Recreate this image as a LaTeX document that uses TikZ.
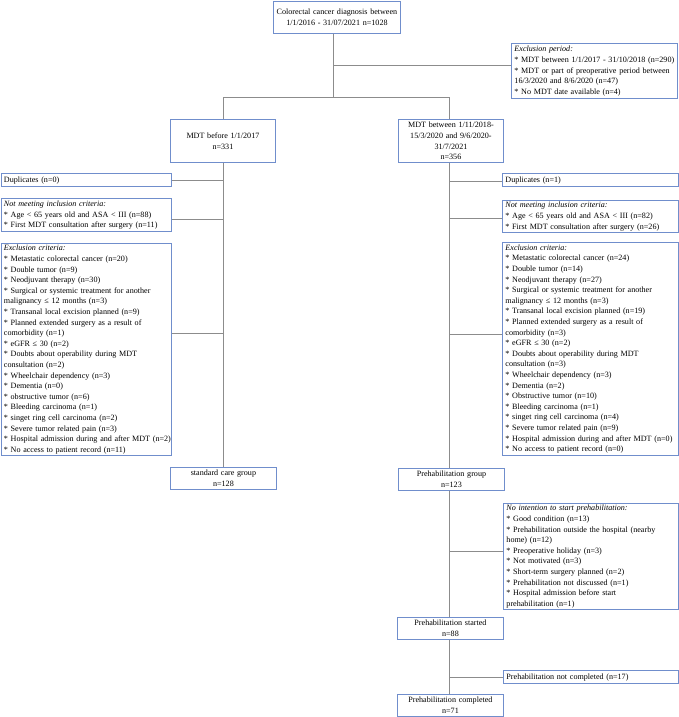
\documentclass[tikz,border=0pt]{standalone}
\usepackage{fontspec}
\setmainfont{Liberation Serif}
\definecolor{boxc}{RGB}{112,142,204}
\definecolor{linec}{RGB}{140,140,140}
\newcommand{\tl}[1]{\begin{tabular}{@{}l@{}}#1\end{tabular}}
\newcommand{\bl}{{*}\ }
\tikzset{
  box/.style={draw=boxc, line width=0.9pt, rectangle, inner xsep=3pt, inner ysep=0pt, anchor=north west, font=\fontsize{8.1}{10.6}\selectfont},
  lbox/.style={box, align=left},
  cbox/.style={box, align=center},
  conn/.style={draw=linec, line width=0.9pt},
}
\begin{document}
\begin{tikzpicture}[x=1pt,y=-1pt]
\useasboundingbox (0,0) rectangle (678,717);
% boxes
\node[cbox, text width=121pt, minimum height=32pt] (top) at (273,1) {Colorectal cancer diagnosis between\\1/1/2016 - 31/07/2021 n=1028};
\node[lbox, text width=160pt, minimum height=55pt] (exclP) at (511,43) {\tl{\textit{Exclusion period:}\\
\bl MDT between 1/1/2017 - 31/10/2018 (n=290)\\
\bl MDT or part of preoperative period between\\
16/3/2020 and 8/6/2020 (n=47)\\
\bl No MDT date available (n=4)}};
\node[cbox, text width=99pt, minimum height=43pt] (mdtL) at (170,119) {MDT before 1/1/2017\\n=331};
\node[cbox, text width=99pt, minimum height=43pt] (mdtR) at (398,119) {MDT between 1/11/2018-\\15/3/2020 and 9/6/2020-\\31/7/2021\\n=356};
\node[lbox, text width=164.5pt, minimum height=13pt] (dupL) at (0.5,173) {\tl{Duplicates (n=0)}};
\node[lbox, text width=164.5pt, minimum height=33pt] (notL) at (0.5,198) {\tl{\textit{Not meeting inclusion criteria:}\\
\bl Age < 65 years old and ASA < III (n=88)\\
\bl First MDT consultation after surgery (n=11)}};
\node[lbox, text width=164.5pt, minimum height=212pt] (exclL) at (0.5,243) {\tl{\textit{Exclusion criteria:}\\
\bl Metastatic colorectal cancer (n=20)\\
\bl Double tumor (n=9)\\
\bl Neodjuvant therapy (n=30)\\
\bl Surgical or systemic treatment for another\\
malignancy ≤ 12 months (n=3)\\
\bl Transanal local excision planned (n=9)\\
\bl Planned extended surgery as a result of\\
comorbidity (n=1)\\
\bl eGFR ≤ 30 (n=2)\\
\bl Doubts about operability during MDT\\
consultation (n=2)\\
\bl Wheelchair dependency (n=3)\\
\bl Dementia (n=0)\\
\bl obstructive tumor (n=6)\\
\bl Bleeding carcinoma (n=1)\\
\bl singet ring cell carcinoma (n=2)\\
\bl Severe tumor related pain (n=3)\\
\bl Hospital admission during and after MDT (n=2)\\
\bl No access to patient record (n=11)}};
\node[cbox, text width=100pt, minimum height=22pt] (std) at (170,467) {standard care group\\n=128};
\node[lbox, text width=169.5pt, minimum height=13pt] (dupR) at (502,173) {\tl{Duplicates (n=1)}};
\node[lbox, text width=169.5pt, minimum height=32pt] (notR) at (502,200) {\tl{\textit{Not meeting inclusion criteria:}\\
\bl Age < 65 years old and ASA < III (n=82)\\
\bl First MDT consultation after surgery (n=26)}};
\node[lbox, text width=169.5pt, minimum height=213pt] (exclR) at (502,242) {\tl{\textit{Exclusion criteria:}\\
\bl Metastatic colorectal cancer (n=24)\\
\bl Double tumor (n=14)\\
\bl Neodjuvant therapy (n=27)\\
\bl Surgical or systemic treatment for another\\
malignancy ≤ 12 months (n=3)\\
\bl Transanal local excision planned (n=19)\\
\bl Planned extended surgery as a result of\\
comorbidity (n=3)\\
\bl eGFR ≤ 30 (n=2)\\
\bl Doubts about operability during MDT\\
consultation (n=3)\\
\bl Wheelchair dependency (n=3)\\
\bl Dementia (n=2)\\
\bl Obstructive tumor (n=10)\\
\bl Bleeding carcinoma (n=1)\\
\bl singet ring cell carcinoma (n=4)\\
\bl Severe tumor related pain (n=9)\\
\bl Hospital admission during and after MDT (n=0)\\
\bl No access to patient record (n=0)}};
\node[cbox, text width=100pt, minimum height=22pt] (preG) at (398,468) {Prehabilitation group\\n=123};
\node[lbox, text width=168.5pt, minimum height=104pt] (noInt) at (503,503) {\tl{\textit{No intention to start prehabilitation:}\\
\bl Good condition (n=13)\\
\bl Prehabilitation outside the hospital (nearby\\
home) (n=12)\\
\bl Preoperative holiday (n=3)\\
\bl Not motivated (n=3)\\
\bl Short-term surgery planned (n=2)\\
\bl Prehabilitation not discussed (n=1)\\
\bl Hospital admission before start\\
prehabilitation (n=1)}};
\node[cbox, text width=100pt, minimum height=22pt] (preS) at (397,617) {Prehabilitation started\\n=88};
\node[lbox, text width=168.5pt, minimum height=13pt] (notC) at (503,670) {\tl{Prehabilitation not completed (n=17)}};
\node[cbox, text width=100pt, minimum height=22pt] (preC) at (397,694) {Prehabilitation completed\\n=71};
% trunk coordinates
\coordinate (s0) at (333,65);
\coordinate (s1) at (333,97);
\coordinate (sL) at (223,97);
\coordinate (sR) at (449,97);
\coordinate (bL1) at (223,180);
\coordinate (bL2) at (223,219);
\coordinate (bL3) at (223,333);
\coordinate (bR1) at (449,181);
\coordinate (bR2) at (449,218);
\coordinate (bR3) at (449,334);
\coordinate (bR4) at (449,551);
\coordinate (bR5) at (449,677);
% connectors
\draw[conn] (top.south -| s1) -- (s1);
\draw[conn] (s0) -- (exclP.west |- s0);
\draw[conn] (sL) -- (sR);
\draw[conn] (sL) -- (mdtL.north -| sL);
\draw[conn] (sR) -- (mdtR.north -| sR);
\draw[conn] (mdtL.south -| sL) -- (std.north -| sL);
\draw[conn] (bL1) -- (dupL.east |- bL1);
\draw[conn] (bL2) -- (notL.east |- bL2);
\draw[conn] (bL3) -- (exclL.east |- bL3);
\draw[conn] (mdtR.south -| sR) -- (preG.north -| sR);
\draw[conn] (bR1) -- (dupR.west |- bR1);
\draw[conn] (bR2) -- (notR.west |- bR2);
\draw[conn] (bR3) -- (exclR.west |- bR3);
\draw[conn] (preG.south -| sR) -- (preS.north -| sR);
\draw[conn] (bR4) -- (noInt.west |- bR4);
\draw[conn] (preS.south -| sR) -- (preC.north -| sR);
\draw[conn] (bR5) -- (notC.west |- bR5);
\end{tikzpicture}
\end{document}
